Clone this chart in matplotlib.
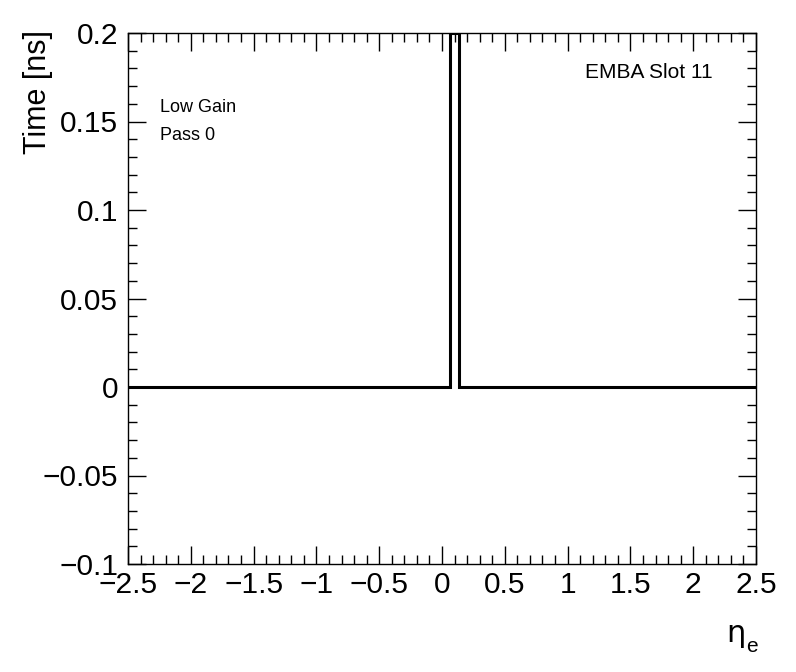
import matplotlib
matplotlib.use('Agg')
import matplotlib.pyplot as plt
from matplotlib.ticker import MultipleLocator

# histogram outline: bin edges and bin contents
bin_edges = [-2.5, 0.06, 0.135, 2.5]
bin_values = [0.0, 0.2, 0.0]

x_ticks = [-2.5, -2, -1.5, -1, -0.5, 0, 0.5, 1, 1.5, 2, 2.5]
x_ticklabels = ['\u22122.5', '\u22122', '\u22121.5', '\u22121', '\u22120.5', '0',
                '0.5', '1', '1.5', '2', '2.5']
y_ticks = [-0.1, -0.05, 0, 0.05, 0.1, 0.15, 0.2]
y_ticklabels = ['\u22120.1', '\u22120.05', '0', '0.05', '0.1', '0.15', '0.2']

plt.rcParams['font.family'] = ['Liberation Sans', 'DejaVu Sans']

fig = plt.figure(figsize=(7.96, 6.72), dpi=100)
ax = fig.add_axes([128 / 796, 1 - 564 / 672, 628 / 796, 531 / 672])

ax.stairs(bin_values, bin_edges, baseline=None, color='black', linewidth=2.2)

ax.set_xlim(-2.5, 2.5)
ax.set_ylim(-0.1, 0.2)
ax.set_xticks(x_ticks)
ax.set_xticklabels(x_ticklabels)
ax.set_yticks(y_ticks)
ax.set_yticklabels(y_ticklabels)
ax.xaxis.set_minor_locator(MultipleLocator(0.1))
ax.yaxis.set_minor_locator(MultipleLocator(0.01))
ax.tick_params(which='both', direction='in', top=True, right=True, width=1)
ax.tick_params(which='major', length=13, labelsize=21.5)
ax.tick_params(which='minor', length=6.5)
ax.tick_params(axis='x', which='major', pad=5)
ax.tick_params(axis='y', which='major', pad=7)
for s in ax.spines.values():
    s.set_linewidth(1)

fig.text(38 / 796, 1 - 30 / 672, 'Time [ns]', rotation=90, ha='center', va='top',
         fontsize=22)
fig.text(746 / 796, 1 - 634 / 672, '\u03b7', ha='right', va='center', fontsize=22,
         family='DejaVu Sans')
fig.text(746 / 796, 1 - 646 / 672, 'e', ha='left', va='center', fontsize=15)

fig.text(160 / 796, 1 - 108 / 672, 'Low Gain', ha='left', va='center', fontsize=13)
fig.text(160 / 796, 1 - 136 / 672, 'Pass 0', ha='left', va='center', fontsize=13)
fig.text(713 / 796, 1 - 73 / 672, 'EMBA Slot 11', ha='right', va='center', fontsize=15)

fig.savefig('out.png', dpi=100)
